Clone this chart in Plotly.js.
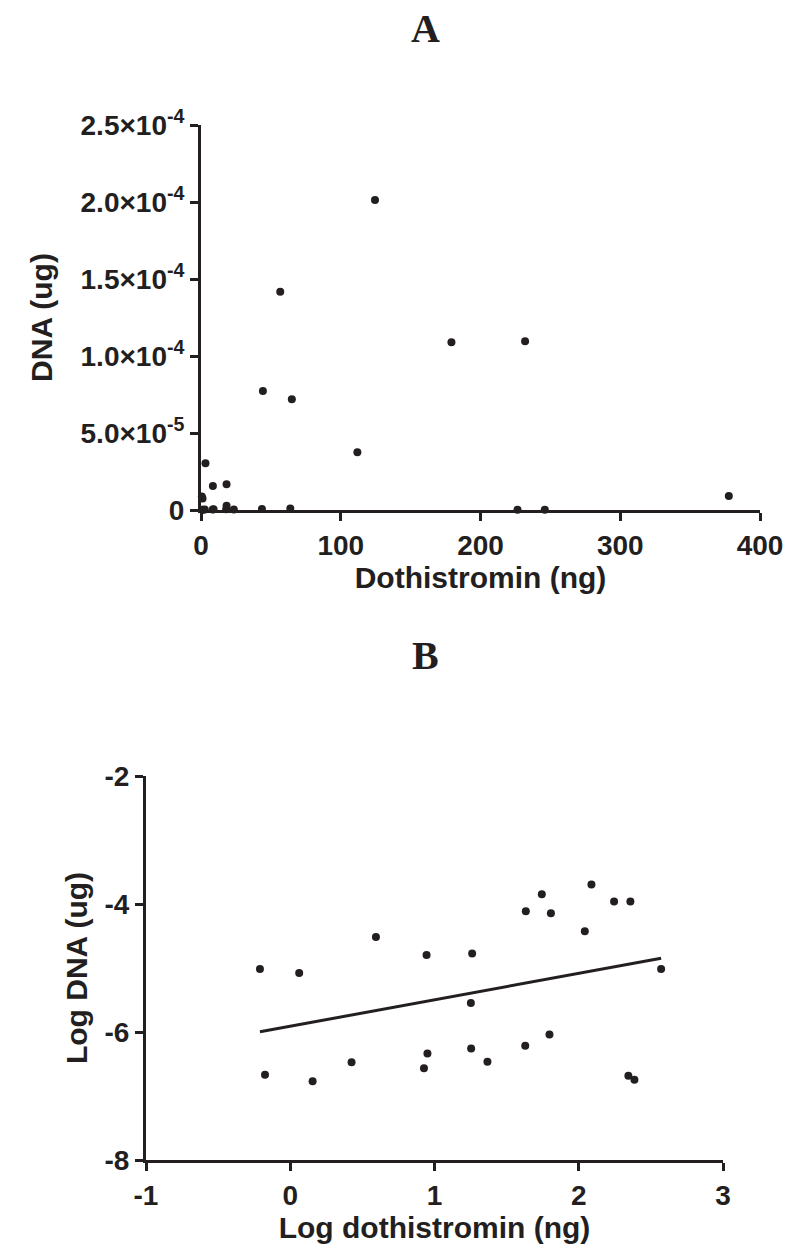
<!DOCTYPE html>
<html>
<head>
<meta charset="utf-8">
<script src="https://cdn.plot.ly/plotly-3.0.1.min.js"></script>
<style>
html,body{margin:0;padding:0;background:#fff;}
#chart{width:803px;height:1251px;}
</style>
</head>
<body>
<div id="chart"></div>
<script>
// Panel A: raw values
var dothistromin_ng = [0.6, 1.1, 3.2, 8.5, 0.7, 1.4, 2.7, 9.0, 8.4, 18.3, 124.5, 56.7, 44.3, 65.0, 179.2, 231.9, 111.9, 377.7, 18.3, 18.0, 23.5, 43.6, 63.9, 226.5, 246.0];
var dna_ug = [8.8e-6, 7.5e-6, 3.03e-5, 1.56e-5, 2.2e-7, 1.7e-7, 3.4e-7, 4.6e-7, 2.7e-7, 1.67e-5, 2.013e-4, 1.418e-4, 7.73e-5, 7.19e-5, 1.089e-4, 1.095e-4, 3.75e-5, 9.1e-6, 2.8e-6, 5.5e-7, 3.4e-7, 6.1e-7, 9.2e-7, 2.1e-7, 1.8e-7];

// Panel B: log values
var log_dothistromin = [-0.210, 0.062, 0.594, 0.945, -0.175, 0.155, 0.425, 0.951, 0.927, 1.261, 2.088, 1.744, 1.633, 1.807, 2.245, 2.358, 2.042, 2.571, 1.252, 1.254, 1.367, 1.629, 1.797, 2.344, 2.386];
var log_dna = [-5.016, -5.078, -4.515, -4.797, -6.668, -6.768, -6.471, -6.335, -6.565, -4.775, -3.695, -3.847, -4.113, -4.144, -3.961, -3.961, -4.426, -5.016, -5.548, -6.257, -6.465, -6.214, -6.038, -6.684, -6.746];

// Linear fit shown in panel B
var fitSlope = 0.413;
var fitIntercept = -5.91;

// Tick values and labels
var xTicksA = [0, 100, 200, 300, 400];
var xTickTextA = ['0', '100', '200', '300', '400'];
var yTicksA = [0, 5e-5, 1e-4, 1.5e-4, 2e-4, 2.5e-4];
var yTickTextA = ['0', '5.0\u00d710<sup>-5</sup>', '1.0\u00d710<sup>-4</sup>', '1.5\u00d710<sup>-4</sup>', '2.0\u00d710<sup>-4</sup>', '2.5\u00d710<sup>-4</sup>'];
var xTicksB = [-1, 0, 1, 2, 3];
var xTickTextB = ['-1', '0', '1', '2', '3'];
var yTicksB = [-8, -6, -4, -2];
var yTickTextB = ['-8', '-6', '-4', '-2'];

var ink = '#231f20';
var sans = 'Liberation Sans, Arial, sans-serif';
var serif = 'Liberation Serif, Times New Roman, serif';

function bold(arr) { return arr.map(function (s) { return '<b>' + s + '</b>'; }); }

var fitX = [Math.min.apply(null, log_dothistromin), Math.max.apply(null, log_dothistromin)];
var fitY = fitX.map(function (v) { return fitIntercept + fitSlope * v; });

var W = 803, H = 1251;
function px(a, b) { return [a / W, b / W]; }
function py(top, bottom) { return [(H - bottom) / H, (H - top) / H]; }

var traces = [
  {x: dothistromin_ng, y: dna_ug, type: 'scatter', mode: 'markers', xaxis: 'x', yaxis: 'y',
   marker: {color: ink, size: 8}, cliponaxis: false},
  {x: log_dothistromin, y: log_dna, type: 'scatter', mode: 'markers', xaxis: 'x2', yaxis: 'y2',
   marker: {color: ink, size: 8}, cliponaxis: false},
  {x: fitX, y: fitY, type: 'scatter', mode: 'lines', xaxis: 'x2', yaxis: 'y2',
   line: {color: ink, width: 3}}
];

var tickFont = {family: sans, size: 28, color: ink};
var titleFont = {family: sans, size: 30, color: ink};
var axBase = {
  showgrid: false, zeroline: false, showline: true, linecolor: ink, linewidth: 3,
  ticks: 'outside', ticklen: 8, tickwidth: 3, tickcolor: ink,
  tickfont: tickFont, tickmode: 'array', fixedrange: true
};
function ax(extra) { return Object.assign({}, axBase, extra); }

var layout = {
  width: W, height: H,
  margin: {l: 0, r: 0, t: 0, b: 0},
  paper_bgcolor: '#fff', plot_bgcolor: '#fff',
  showlegend: false,
  xaxis: ax({domain: px(201, 760), range: [0, 400], tickvals: xTicksA, ticktext: bold(xTickTextA), anchor: 'y',
    title: {text: '<b>Dothistromin (ng)</b>', font: titleFont, standoff: 8}}),
  yaxis: ax({domain: py(125, 510), range: [0, 2.5e-4], tickvals: yTicksA, ticktext: bold(yTickTextA), anchor: 'x',
    title: {text: '<b>DNA (ug)</b>', font: titleFont, standoff: 20}}),
  xaxis2: ax({domain: px(146, 723), range: [-1, 3], tickvals: xTicksB, ticktext: bold(xTickTextB), anchor: 'y2',
    title: {text: '<b>Log dothistromin (ng)</b>', font: titleFont, standoff: 2}}),
  yaxis2: ax({domain: py(776, 1160), range: [-8, -2], tickvals: yTicksB, ticktext: bold(yTickTextB), anchor: 'x2',
    title: {text: '<b>Log DNA (ug)</b>', font: titleFont, standoff: 8}}),
  annotations: [
    {text: '<b>A</b>', x: 425 / W, y: 1 - 28 / H, xref: 'paper', yref: 'paper', showarrow: false,
     font: {family: serif, size: 40, color: ink}, xanchor: 'center', yanchor: 'middle'},
    {text: '<b>B</b>', x: 425 / W, y: 1 - 655 / H, xref: 'paper', yref: 'paper', showarrow: false,
     font: {family: serif, size: 40, color: ink}, xanchor: 'center', yanchor: 'middle'}
  ]
};

Plotly.newPlot('chart', traces, layout, {displayModeBar: false, staticPlot: true});
</script>
</body>
</html>
